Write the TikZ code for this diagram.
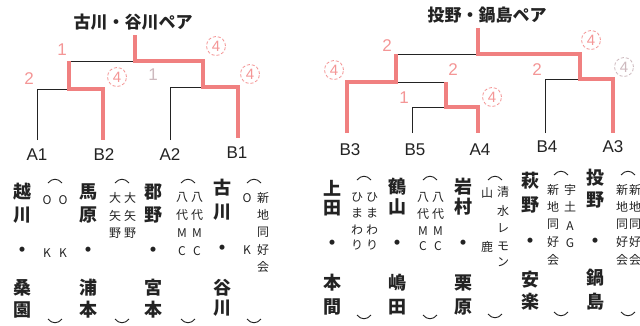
\documentclass[tikz,border=0pt]{standalone}
\usepackage{fontspec}
\setmainfont{Liberation Sans}
\newfontfamily\jp{Noto Sans CJK JP}
\definecolor{redline}{RGB}{240,128,128}
\definecolor{redtxt}{RGB}{244,150,150}
\definecolor{faint}{RGB}{205,185,190}
\definecolor{ink}{RGB}{35,35,35}
\tikzset{
 win/.style={draw=redline, line width=4pt, line join=miter},
 lose/.style={draw=ink, line width=0.9pt},
 pline/.style={draw=ink, line width=0.9pt},
 nm/.style={font=\jp\bfseries\fontsize{18}{18}\selectfont, inner sep=0, text=ink},
 af/.style={font=\jp\fontsize{12}{12}\selectfont, inner sep=0, text=ink},
 lab/.style={font=\fontsize{17}{17}\selectfont, inner sep=0, text=ink},
 num/.style={font=\fontsize{17}{17}\selectfont, inner sep=0, text=redtxt},
 circ/.style={circle, draw=redtxt, densely dashed, line width=0.8pt, minimum size=19pt, inner sep=0, font=\fontsize{15}{15}\selectfont, text=redtxt},
 ttl/.style={font=\jp\bfseries\fontsize{17}{17}\selectfont, inner sep=0, text=ink},
}
\newcommand\vc[3]{\foreach \ch/\yy in {#3}{\node[#2, name=v#1-\yy] at (#1,\yy) {\ch};}}
\newcommand\parn[3]{%
 \draw[pline] (#1-7,#2+3) .. controls (#1-3,#2-2) and (#1+3,#2-2) .. (#1+7,#2+3);
 \draw[pline] (#1-7,#3-3) .. controls (#1-3,#3+2) and (#1+3,#3+2) .. (#1+7,#3-3);}
\begin{document}
\begin{tikzpicture}[x=1pt,y=-1pt]
\useasboundingbox[fill=white] (0,0) rectangle (640,325);
% ---------- titles
\node[ttl] (t1) at (133,22) {古川・谷川ペア};
\node[ttl] (t2) at (487,15) {投野・鍋島ペア};
% ---------- left bracket coordinates
\coordinate (Ltop) at (135,35);
\coordinate (Lc) at (135,61);
\coordinate (Lh1) at (69,61);
\coordinate (Lh2) at (203,61);
\coordinate (Ls1) at (69,89);
\coordinate (Ls2) at (203,87);
\coordinate (a1t) at (37,89);
\coordinate (b2t) at (103,89);
\coordinate (a2t) at (170,87);
\coordinate (b1t) at (238,87);
\node[lab] (A1) at (37,155) {A1};
\node[lab] (B2) at (104,155) {B2};
\node[lab] (A2) at (170,155) {A2};
\node[lab] (B1) at (237,153) {B1};
\coordinate (a1b) at (37,140);
\coordinate (b2b) at (103,140);
\coordinate (a2b) at (170,140);
\coordinate (b1b) at (238,138);
\draw[lose] (Lh1) -- (Lc);
\draw[lose] (a1b) -- (a1t) -- (Ls1);
\draw[lose] (a2b) -- (a2t) -- (Ls2);
\draw[win] (Lh1) -- (Ls1) -- (b2t) -- (b2b);
\draw[win] (Ltop) -- (Lc) -- (Lh2) -- (Ls2) -- (b1t) -- (b1b);
\node[num] (l1) at (62,50) {1};
\node[num] (l2) at (29,79) {2};
\node[circ] (l3) at (117,77) {4};
\node[circ] (l4) at (216,46) {4};
\node[circ] (l5) at (250,74) {4};
\node[num, text=faint] (l6) at (153,75) {1};
% ---------- right bracket coordinates
\coordinate (Rtop) at (478,28);
\coordinate (Rc) at (478,54);
\coordinate (Rh1) at (396,54);
\coordinate (Rh2) at (580,54);
\coordinate (Rs1) at (396,82);
\coordinate (Ri) at (446,82);
\coordinate (Ri2) at (446,107);
\coordinate (Rs2) at (580,79);
\coordinate (b3t) at (347,82);
\coordinate (b5t) at (412,107);
\coordinate (a4t) at (478,107);
\coordinate (b4t) at (545,79);
\coordinate (a3t) at (613,79);
\coordinate (b3b) at (347,133);
\coordinate (b5b) at (412,133);
\coordinate (a4b) at (478,133);
\coordinate (b4b) at (545,133);
\coordinate (a3b) at (613,133);
\node[lab] (B3) at (350,150) {B3};
\node[lab] (B5) at (415,150) {B5};
\node[lab] (A4) at (480,150) {A4};
\node[lab] (B4) at (547,147) {B4};
\node[lab] (A3) at (613,147) {A3};
\draw[lose] (Rh1) -- (Rc);
\draw[lose] (Rs1) -- (Ri);
\draw[lose] (b5b) -- (b5t) -- (Ri2);
\draw[lose] (b4b) -- (b4t) -- (Rs2);
\draw[win] (b3b) -- (b3t) -- (Rs1) -- (Rh1);
\draw[win] (Ri) -- (Ri2) -- (a4t) -- (a4b);
\draw[win] (Rtop) -- (Rc) -- (Rh2) -- (Rs2) -- (a3t) -- (a3b);
\node[num] (r1) at (387,46) {2};
\node[circ] (r2) at (334,70) {4};
\node[num] (r3) at (453,70) {2};
\node[num] (r4) at (404,98) {1};
\node[circ] (r5) at (492,97) {4};
\node[num] (r6) at (537,70) {2};
\node[circ] (r7) at (591,40) {4};
\node[circ, draw=faint, text=faint] (r8) at (624,67) {4};
% ---------- vertical texts, left
\vc{22}{nm}{越/192,川/215,・/252,桑/288,園/310}
\parn{55}{180}{322}
\vc{47}{af}{O/200,K/253}
\vc{63}{af}{O/200,K/253}
\vc{88}{nm}{馬/192,原/215,・/252,浦/288,本/310}
\parn{122}{180}{322}
\vc{115}{af}{大/198,矢/216,野/233}
\vc{130}{af}{大/198,矢/216,野/233}
\vc{153}{nm}{郡/192,野/215,・/252,宮/288,本/310}
\parn{188}{180}{322}
\vc{182}{af}{八/197,代/215,M/233,C/251}
\vc{197}{af}{八/197,代/215,M/233,C/251}
\vc{222}{nm}{古/188,川/212,・/250,谷/288,川/308}
\parn{254}{180}{322}
\vc{247}{af}{O/198,K/250}
\vc{263}{af}{新/198,地/215,同/232,好/250,会/267}
% ---------- vertical texts, right
\vc{332}{nm}{上/188,田/208,・/245,本/283,間/307}
\parn{364}{177}{318}
\vc{357}{af}{ひ/197,ま/213,わ/230,り/245}
\vc{372}{af}{ひ/197,ま/213,わ/230,り/245}
\vc{397}{nm}{鶴/187,山/207,・/245,嶋/283,田/307}
\parn{430}{177}{318}
\vc{423}{af}{八/197,代/214,M/231,C/246}
\vc{438}{af}{八/197,代/214,M/231,C/246}
\vc{463}{nm}{岩/187,村/207,・/245,栗/283,原/307}
\parn{495}{177}{317}
\vc{487}{af}{山/193,鹿/247}
\vc{503}{af}{清/192,水/211,レ/228,モ/246,ン/262}
\vc{530}{nm}{萩/181,野/205,・/243,安/280,楽/302}
\parn{561}{172}{315}
\vc{553}{af}{新/190,地/207,同/224,好/242,会/260}
\vc{570}{af}{宇/190,土/207,A/226,G/243}
\vc{595}{nm}{投/178,野/200,・/243,鍋/278,島/302}
\parn{628}{172}{315}
\vc{622}{af}{新/190,地/207,同/224,好/242,会/260}
\vc{635}{af}{新/190,地/207,同/224,好/242,会/260}
\end{tikzpicture}
\end{document}
